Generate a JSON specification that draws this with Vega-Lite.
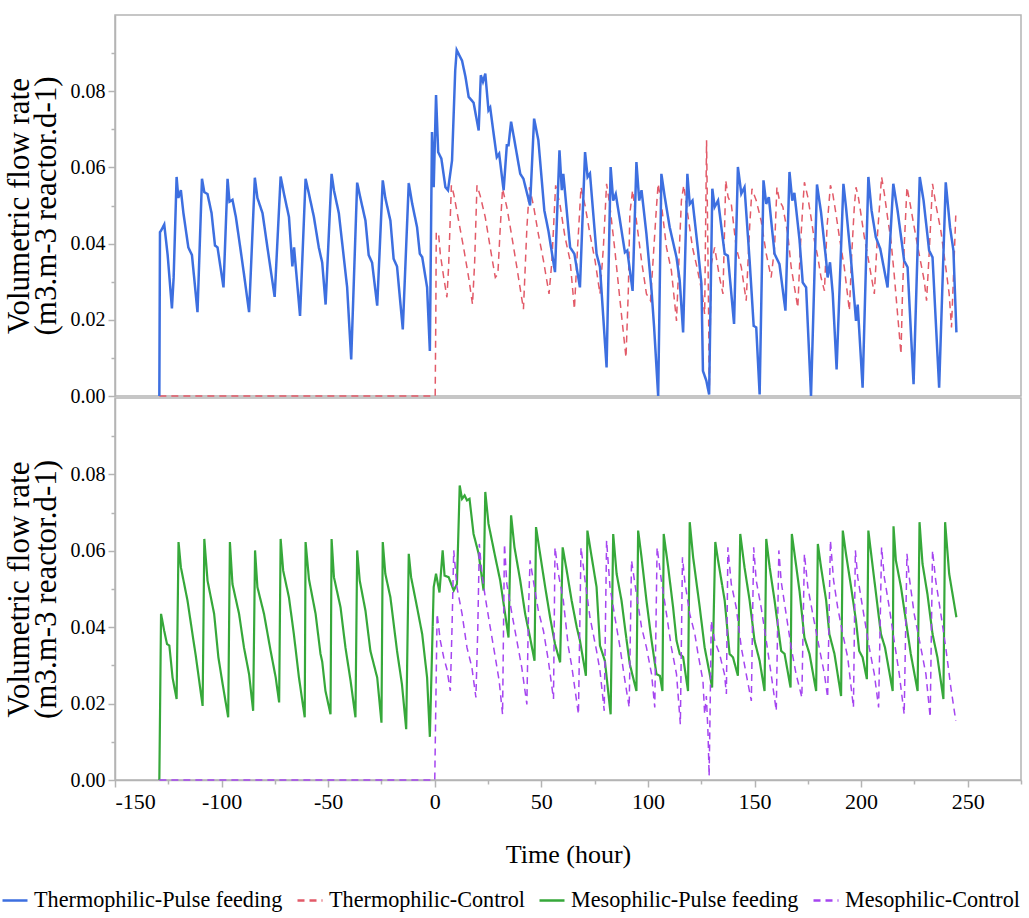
{
"$schema": "https://vega.github.io/schema/vega-lite/v6.json",
"padding": {"left": 1, "top": 14, "right": 8, "bottom": 5},
"background": "white",
"config": {
  "font": "Liberation Serif",
  "style": {"guide-label": {"font": "Liberation Serif"}, "guide-title": {"font": "Liberation Serif"}},
  "view": {"stroke": "#b4b4b4", "strokeWidth": 1.5},
  "axis": {"domainColor": "#b4b4b4", "domainWidth": 1.5, "tickColor": "#b4b4b4", "tickWidth": 1.5, "grid": false,
    "labelFont": "Liberation Serif", "labelFontSize": 20, "labelColor": "black",
    "titleFont": "Liberation Serif", "titleFontWeight": "normal", "titleColor": "black"},
  "legend": {"labelFont": "Liberation Serif", "titleFont": "Liberation Serif", "labelFontSize": 22.2, "labelColor": "black", "symbolType": "stroke",
    "symbolSize": 625, "symbolStrokeWidth": 2.5, "columnPadding": 9, "labelLimit": 500, "labelOffset": 5}
},
"datasets": {
"tp": [{"h":-129.2,"v":0},{"h":-128.9,"v":0.043},{"h":-128.4,"v":0.0434},{"h":-126.9,"v":0.045},{"h":-125.3,"v":0.037},{"h":-123.3,"v":0.023},{"h":-122.5,"v":0.031},{"h":-121.1,"v":0.0575},{"h":-120.3,"v":0.052},{"h":-119.1,"v":0.054},{"h":-117.9,"v":0.048},{"h":-115.6,"v":0.039},{"h":-113.9,"v":0.037},{"h":-111.3,"v":0.022},{"h":-109.2,"v":0.057},{"h":-108.1,"v":0.0535},{"h":-106.6,"v":0.053},{"h":-104.7,"v":0.048},{"h":-103.1,"v":0.0395},{"h":-101.9,"v":0.039},{"h":-99.1,"v":0.0285},{"h":-97.2,"v":0.057},{"h":-96.3,"v":0.051},{"h":-94.9,"v":0.0515},{"h":-93.3,"v":0.047},{"h":-91.0,"v":0.038},{"h":-89.4,"v":0.0316},{"h":-87.1,"v":0.022},{"h":-84.4,"v":0.0573},{"h":-83.2,"v":0.052},{"h":-80.8,"v":0.048},{"h":-78.5,"v":0.039},{"h":-75.1,"v":0.026},{"h":-72.3,"v":0.0576},{"h":-70.7,"v":0.053},{"h":-68.4,"v":0.047},{"h":-66.8,"v":0.034},{"h":-66.0,"v":0.039},{"h":-65.3,"v":0.0345},{"h":-63.2,"v":0.021},{"h":-60.6,"v":0.057},{"h":-59.0,"v":0.053},{"h":-56.7,"v":0.047},{"h":-54.4,"v":0.039},{"h":-52.8,"v":0.035},{"h":-51.2,"v":0.024},{"h":-48.4,"v":0.0583},{"h":-47.3,"v":0.054},{"h":-45.0,"v":0.048},{"h":-42.6,"v":0.036},{"h":-41.1,"v":0.0285},{"h":-39.2,"v":0.0096},{"h":-36.4,"v":0.056},{"h":-34.9,"v":0.052},{"h":-32.5,"v":0.046},{"h":-31.0,"v":0.037},{"h":-29.4,"v":0.035},{"h":-27.0,"v":0.0237},{"h":-24.4,"v":0.0566},{"h":-23.2,"v":0.052},{"h":-20.8,"v":0.046},{"h":-19.3,"v":0.036},{"h":-17.7,"v":0.034},{"h":-15.0,"v":0.0175},{"h":-12.2,"v":0.0559},{"h":-10.6,"v":0.0505},{"h":-8.3,"v":0.0443},{"h":-7.0,"v":0.0373},{"h":-5.9,"v":0.0365},{"h":-3.6,"v":0.0285},{"h":-2.3,"v":0.0118},{"h":-1.3,"v":0.0693},{"h":-0.5,"v":0.0548},{"h":0.6,"v":0.079},{"h":1.6,"v":0.064},{"h":3.1,"v":0.0623},{"h":5.0,"v":0.0548},{"h":6.2,"v":0.054},{"h":8.1,"v":0.0618},{"h":9.6,"v":0.0855},{"h":10.3,"v":0.0908},{"h":12.8,"v":0.088},{"h":14.4,"v":0.0838},{"h":15.9,"v":0.0785},{"h":18.2,"v":0.077},{"h":20.6,"v":0.0697},{"h":21.6,"v":0.0842},{"h":22.6,"v":0.0825},{"h":23.7,"v":0.0846},{"h":25.2,"v":0.075},{"h":26.0,"v":0.0757},{"h":27.6,"v":0.0689},{"h":29.1,"v":0.0627},{"h":30.2,"v":0.0636},{"h":32.3,"v":0.054},{"h":33.8,"v":0.0658},{"h":34.6,"v":0.0658},{"h":35.8,"v":0.072},{"h":37.4,"v":0.067},{"h":40.1,"v":0.0583},{"h":41.6,"v":0.057},{"h":44.7,"v":0.05},{"h":46.6,"v":0.0728},{"h":48.6,"v":0.0671},{"h":51.4,"v":0.0487},{"h":53.3,"v":0.0434},{"h":56.4,"v":0.0325},{"h":58.5,"v":0.0645},{"h":59.6,"v":0.054},{"h":60.3,"v":0.0583},{"h":61.9,"v":0.0487},{"h":63.5,"v":0.039},{"h":65.5,"v":0.0373},{"h":68.1,"v":0.0285},{"h":70.5,"v":0.064},{"h":71.7,"v":0.0575},{"h":72.8,"v":0.0584},{"h":75.9,"v":0.0373},{"h":77.5,"v":0.0338},{"h":80.6,"v":0.0075},{"h":82.5,"v":0.0601},{"h":83.7,"v":0.0513},{"h":84.9,"v":0.053},{"h":86.9,"v":0.046},{"h":89.2,"v":0.0377},{"h":90.3,"v":0.0382},{"h":92.8,"v":0.0276},{"h":94.6,"v":0.0614},{"h":95.9,"v":0.0513},{"h":97.0,"v":0.054},{"h":99.3,"v":0.0425},{"h":101.7,"v":0.0276},{"h":102.9,"v":0.018},{"h":104.8,"v":0},{"h":106.3,"v":0.0583},{"h":107.9,"v":0.0522},{"h":110.2,"v":0.0443},{"h":113.4,"v":0.0364},{"h":114.9,"v":0.0303},{"h":116.5,"v":0.0167},{"h":118.5,"v":0.0583},{"h":119.6,"v":0.0504},{"h":120.9,"v":0.0513},{"h":123.5,"v":0.0382},{"h":125.1,"v":0.0294},{"h":125.8,"v":0.0066},{"h":127.4,"v":0.004},{"h":128.7,"v":0.0004},{"h":130.2,"v":0.0544},{"h":131.3,"v":0.0496},{"h":132.9,"v":0.0513},{"h":136.0,"v":0.0373},{"h":137.5,"v":0.0368},{"h":140.4,"v":0.0189},{"h":142.2,"v":0.0601},{"h":143.8,"v":0.0531},{"h":145.3,"v":0.0548},{"h":147.7,"v":0.0355},{"h":149.6,"v":0.0184},{"h":150.8,"v":0.018},{"h":152.4,"v":0.0004},{"h":154.2,"v":0.0566},{"h":155.5,"v":0.0504},{"h":156.7,"v":0.0522},{"h":159.4,"v":0.0373},{"h":161.7,"v":0.0346},{"h":164.5,"v":0.0224},{"h":166.4,"v":0.0588},{"h":167.7,"v":0.0513},{"h":168.7,"v":0.0533},{"h":171.1,"v":0.041},{"h":172.6,"v":0.0298},{"h":174.2,"v":0.0285},{"h":176.5,"v":0},{"h":179.3,"v":0.0555},{"h":181.2,"v":0.0482},{"h":183.6,"v":0.0355},{"h":184.3,"v":0.0311},{"h":185.4,"v":0.0351},{"h":186.7,"v":0.0268},{"h":188.5,"v":0.007},{"h":191.7,"v":0.0557},{"h":192.9,"v":0.0496},{"h":195.3,"v":0.0355},{"h":197.6,"v":0.0197},{"h":198.4,"v":0.024},{"h":200.7,"v":0.0022},{"h":203.4,"v":0.0575},{"h":204.9,"v":0.0487},{"h":206.9,"v":0.0417},{"h":209.0,"v":0.0386},{"h":212.4,"v":0.0285},{"h":215.1,"v":0.0557},{"h":217.1,"v":0.0487},{"h":220.2,"v":0.0355},{"h":221.8,"v":0.0338},{"h":224.6,"v":0.0031},{"h":227.5,"v":0.0575},{"h":229.3,"v":0.0513},{"h":231.9,"v":0.0382},{"h":233.5,"v":0.0364},{"h":236.6,"v":0.0022},{"h":239.7,"v":0.0561},{"h":241.7,"v":0.0443},{"h":243.3,"v":0.0382},{"h":244.7,"v":0.0167}],
"tc": [{"h":-129.2,"v":0},{"h":0.2,"v":0},{"h":0.5,"v":0.0215},{"h":0.7,"v":0.043},{"h":1.8,"v":0.0425},{"h":2.6,"v":0.0373},{"h":4.2,"v":0.0311},{"h":5.7,"v":0.0259},{"h":6.5,"v":0.034},{"h":7.8,"v":0.0553},{"h":8.9,"v":0.053},{"h":11.2,"v":0.046},{"h":13.5,"v":0.039},{"h":15.9,"v":0.0311},{"h":17.7,"v":0.0241},{"h":18.7,"v":0.035},{"h":19.8,"v":0.0553},{"h":21.3,"v":0.0526},{"h":23.7,"v":0.0469},{"h":26.0,"v":0.039},{"h":28.4,"v":0.0311},{"h":29.6,"v":0.032},{"h":30.7,"v":0.044},{"h":31.8,"v":0.0544},{"h":33.8,"v":0.0496},{"h":36.2,"v":0.0417},{"h":38.5,"v":0.0338},{"h":41.6,"v":0.0228},{"h":43.2,"v":0.044},{"h":44.4,"v":0.0548},{"h":46.3,"v":0.05},{"h":48.6,"v":0.0425},{"h":51.0,"v":0.0355},{"h":53.6,"v":0.0268},{"h":54.9,"v":0.035},{"h":56.7,"v":0.0553},{"h":58.8,"v":0.05},{"h":61.1,"v":0.0417},{"h":63.5,"v":0.0355},{"h":65.5,"v":0.0228},{"h":66.6,"v":0.035},{"h":68.6,"v":0.0548},{"h":70.5,"v":0.05},{"h":72.8,"v":0.0425},{"h":75.2,"v":0.0355},{"h":77.5,"v":0.0268},{"h":79.1,"v":0.039},{"h":80.6,"v":0.0557},{"h":82.2,"v":0.0496},{"h":84.5,"v":0.0382},{"h":86.9,"v":0.025},{"h":89.7,"v":0.0101},{"h":90.8,"v":0.0276},{"h":91.5,"v":0.0478},{"h":92.8,"v":0.054},{"h":94.6,"v":0.046},{"h":97.0,"v":0.0355},{"h":99.3,"v":0.0268},{"h":101.2,"v":0.025},{"h":102.4,"v":0.0355},{"h":104.0,"v":0.0496},{"h":104.8,"v":0.0557},{"h":106.3,"v":0.0504},{"h":108.7,"v":0.039},{"h":111.0,"v":0.0329},{"h":113.4,"v":0.0197},{"h":114.9,"v":0.0408},{"h":115.7,"v":0.0513},{"h":116.8,"v":0.0553},{"h":118.4,"v":0.0487},{"h":120.9,"v":0.039},{"h":123.0,"v":0.0338},{"h":125.5,"v":0.0268},{"h":126.6,"v":0.0215},{"h":127.5,"v":0.0671},{"h":128.3,"v":0.03},{"h":128.8,"v":0.002},{"h":129.7,"v":0.0346},{"h":131.3,"v":0.039},{"h":133.6,"v":0.0311},{"h":135.2,"v":0.0268},{"h":136.5,"v":0.0566},{"h":137.6,"v":0.0522},{"h":139.1,"v":0.0504},{"h":141.4,"v":0.039},{"h":143.8,"v":0.0338},{"h":146.1,"v":0.025},{"h":147.7,"v":0.0443},{"h":148.8,"v":0.0544},{"h":150.8,"v":0.0513},{"h":153.1,"v":0.046},{"h":155.5,"v":0.0373},{"h":157.8,"v":0.0311},{"h":159.4,"v":0.039},{"h":160.5,"v":0.0548},{"h":161.7,"v":0.0513},{"h":163.3,"v":0.0496},{"h":165.6,"v":0.0425},{"h":167.2,"v":0.0338},{"h":170.3,"v":0.0232},{"h":171.5,"v":0.039},{"h":172.6,"v":0.0496},{"h":173.4,"v":0.0561},{"h":175.0,"v":0.0522},{"h":176.5,"v":0.0469},{"h":178.1,"v":0.0408},{"h":179.7,"v":0.0364},{"h":181.2,"v":0.0311},{"h":182.8,"v":0.0276},{"h":184.0,"v":0.0443},{"h":185.6,"v":0.0553},{"h":186.7,"v":0.0531},{"h":188.2,"v":0.0478},{"h":189.8,"v":0.0417},{"h":192.1,"v":0.0338},{"h":194.5,"v":0.0224},{"h":195.6,"v":0.0373},{"h":196.8,"v":0.0496},{"h":197.6,"v":0.0548},{"h":198.7,"v":0.0522},{"h":199.9,"v":0.0478},{"h":201.5,"v":0.0417},{"h":203.8,"v":0.0346},{"h":206.2,"v":0.0268},{"h":207.7,"v":0.0425},{"h":209.6,"v":0.0575},{"h":210.9,"v":0.0531},{"h":212.4,"v":0.0469},{"h":214.0,"v":0.0408},{"h":215.5,"v":0.032},{"h":218.7,"v":0.011},{"h":219.4,"v":0.0268},{"h":220.2,"v":0.039},{"h":221.5,"v":0.0548},{"h":223.0,"v":0.0504},{"h":224.9,"v":0.0443},{"h":227.2,"v":0.0373},{"h":229.6,"v":0.0303},{"h":230.7,"v":0.025},{"h":232.0,"v":0.0382},{"h":233.5,"v":0.0557},{"h":235.0,"v":0.0504},{"h":237.4,"v":0.0434},{"h":239.7,"v":0.0338},{"h":241.3,"v":0.0268},{"h":242.4,"v":0.018},{"h":243.3,"v":0.031},{"h":244.4,"v":0.0474}],
"mp": [{"h":-129.2,"v":0},{"h":-128.4,"v":0.0435},{"h":-126.9,"v":0.039},{"h":-125.6,"v":0.0356},{"h":-124.5,"v":0.0352},{"h":-123.0,"v":0.0268},{"h":-121.1,"v":0.0212},{"h":-120.2,"v":0.0623},{"h":-119.1,"v":0.0557},{"h":-116.0,"v":0.047},{"h":-113.2,"v":0.0365},{"h":-112.1,"v":0.0325},{"h":-108.9,"v":0.0194},{"h":-108.1,"v":0.0631},{"h":-106.6,"v":0.0522},{"h":-103.5,"v":0.0435},{"h":-101.5,"v":0.0321},{"h":-99.5,"v":0.0251},{"h":-96.9,"v":0.0164},{"h":-96.1,"v":0.0623},{"h":-94.9,"v":0.0513},{"h":-91.8,"v":0.0435},{"h":-89.5,"v":0.0347},{"h":-87.1,"v":0.0277},{"h":-85.2,"v":0.0181},{"h":-84.3,"v":0.0601},{"h":-83.2,"v":0.0505},{"h":-80.1,"v":0.0435},{"h":-77.0,"v":0.0338},{"h":-74.6,"v":0.0268},{"h":-73.0,"v":0.0203},{"h":-72.3,"v":0.0631},{"h":-71.1,"v":0.0548},{"h":-68.4,"v":0.0478},{"h":-66.1,"v":0.0382},{"h":-63.7,"v":0.0268},{"h":-61.0,"v":0.0164},{"h":-60.6,"v":0.0623},{"h":-59.0,"v":0.0525},{"h":-55.9,"v":0.0435},{"h":-53.6,"v":0.033},{"h":-52.8,"v":0.031},{"h":-51.3,"v":0.0234},{"h":-48.9,"v":0.0172},{"h":-48.4,"v":0.0631},{"h":-47.3,"v":0.0531},{"h":-44.2,"v":0.0452},{"h":-41.9,"v":0.0347},{"h":-39.5,"v":0.026},{"h":-37.2,"v":0.0164},{"h":-36.4,"v":0.0601},{"h":-35.2,"v":0.0522},{"h":-32.5,"v":0.0443},{"h":-30.2,"v":0.0338},{"h":-27.0,"v":0.0268},{"h":-25.0,"v":0.015},{"h":-24.4,"v":0.0623},{"h":-23.2,"v":0.054},{"h":-20.8,"v":0.0478},{"h":-17.7,"v":0.0338},{"h":-15.4,"v":0.0251},{"h":-13.4,"v":0.0133},{"h":-12.2,"v":0.0592},{"h":-11.1,"v":0.0531},{"h":-8.3,"v":0.0452},{"h":-5.9,"v":0.0382},{"h":-3.6,"v":0.0268},{"h":-2.3,"v":0.0113},{"h":-0.5,"v":0.0505},{"h":0.6,"v":0.054},{"h":2.2,"v":0.0491},{"h":3.7,"v":0.0601},{"h":4.6,"v":0.0535},{"h":6.5,"v":0.0531},{"h":8.9,"v":0.0496},{"h":10.4,"v":0.0513},{"h":11.7,"v":0.0771},{"h":12.8,"v":0.0736},{"h":14.0,"v":0.0745},{"h":15.1,"v":0.0732},{"h":16.3,"v":0.0736},{"h":18.2,"v":0.0644},{"h":20.6,"v":0.0592},{"h":22.9,"v":0.0496},{"h":23.7,"v":0.0754},{"h":25.2,"v":0.0671},{"h":28.4,"v":0.0583},{"h":30.7,"v":0.0522},{"h":33.0,"v":0.0435},{"h":34.6,"v":0.0373},{"h":35.8,"v":0.0693},{"h":37.4,"v":0.0609},{"h":40.1,"v":0.0522},{"h":42.4,"v":0.0435},{"h":44.7,"v":0.0373},{"h":46.8,"v":0.0312},{"h":47.5,"v":0.0662},{"h":49.4,"v":0.0592},{"h":51.8,"v":0.0505},{"h":54.1,"v":0.0426},{"h":56.4,"v":0.0356},{"h":58.8,"v":0.0308},{"h":60.0,"v":0.0609},{"h":61.9,"v":0.0548},{"h":64.2,"v":0.047},{"h":66.6,"v":0.04},{"h":68.1,"v":0.0365},{"h":70.9,"v":0.0273},{"h":71.6,"v":0.0653},{"h":73.1,"v":0.0601},{"h":75.9,"v":0.0505},{"h":77.5,"v":0.0352},{"h":79.8,"v":0.0312},{"h":82.5,"v":0.0172},{"h":83.7,"v":0.0644},{"h":85.3,"v":0.054},{"h":87.6,"v":0.047},{"h":90.0,"v":0.0365},{"h":91.5,"v":0.0303},{"h":94.6,"v":0.0233},{"h":95.4,"v":0.0653},{"h":97.0,"v":0.0583},{"h":99.3,"v":0.047},{"h":101.7,"v":0.0365},{"h":104.0,"v":0.0277},{"h":105.6,"v":0.0273},{"h":106.8,"v":0.0233},{"h":107.4,"v":0.0644},{"h":109.5,"v":0.0557},{"h":111.8,"v":0.0452},{"h":113.4,"v":0.0365},{"h":114.9,"v":0.033},{"h":116.5,"v":0.0322},{"h":118.8,"v":0.0233},{"h":119.6,"v":0.0675},{"h":121.2,"v":0.0583},{"h":124.3,"v":0.0452},{"h":126.6,"v":0.0347},{"h":129.0,"v":0.0277},{"h":130.1,"v":0.0242},{"h":131.6,"v":0.0623},{"h":132.9,"v":0.0575},{"h":136.0,"v":0.047},{"h":138.3,"v":0.033},{"h":139.9,"v":0.0321},{"h":142.2,"v":0.0273},{"h":143.3,"v":0.0644},{"h":145.3,"v":0.0557},{"h":147.7,"v":0.047},{"h":150.0,"v":0.0365},{"h":152.4,"v":0.0312},{"h":154.7,"v":0.0233},{"h":155.5,"v":0.0631},{"h":157.1,"v":0.0557},{"h":159.4,"v":0.047},{"h":162.5,"v":0.0338},{"h":164.1,"v":0.033},{"h":166.9,"v":0.0242},{"h":167.5,"v":0.0644},{"h":168.7,"v":0.0595},{"h":171.1,"v":0.0495},{"h":173.4,"v":0.0373},{"h":175.8,"v":0.033},{"h":178.9,"v":0.0233},{"h":179.7,"v":0.0618},{"h":181.2,"v":0.0557},{"h":183.6,"v":0.047},{"h":185.1,"v":0.0382},{"h":187.5,"v":0.033},{"h":190.6,"v":0.022},{"h":191.4,"v":0.0653},{"h":192.9,"v":0.0592},{"h":195.3,"v":0.0505},{"h":197.6,"v":0.0417},{"h":199.1,"v":0.0338},{"h":200.7,"v":0.0321},{"h":202.7,"v":0.0264},{"h":203.4,"v":0.0653},{"h":204.9,"v":0.0583},{"h":207.0,"v":0.0487},{"h":209.3,"v":0.0382},{"h":211.2,"v":0.0347},{"h":214.8,"v":0.0233},{"h":215.2,"v":0.0664},{"h":216.3,"v":0.0575},{"h":218.7,"v":0.0505},{"h":221.0,"v":0.0417},{"h":223.3,"v":0.033},{"h":226.5,"v":0.0233},{"h":227.4,"v":0.0675},{"h":228.8,"v":0.0566},{"h":231.1,"v":0.0487},{"h":233.5,"v":0.0382},{"h":235.8,"v":0.0321},{"h":238.6,"v":0.0212},{"h":239.4,"v":0.0675},{"h":241.3,"v":0.054},{"h":244.7,"v":0.0426}],
"mc": [{"h":-129.2,"v":0},{"h":0.0,"v":0},{"h":0.5,"v":0.02},{"h":1.1,"v":0.0435},{"h":2.6,"v":0.0365},{"h":4.2,"v":0.0321},{"h":5.7,"v":0.029},{"h":7.3,"v":0.0233},{"h":8.1,"v":0.04},{"h":8.9,"v":0.0601},{"h":10.4,"v":0.0505},{"h":12.8,"v":0.0435},{"h":15.1,"v":0.0347},{"h":17.4,"v":0.0295},{"h":19.3,"v":0.0216},{"h":20.2,"v":0.04},{"h":20.9,"v":0.0618},{"h":22.1,"v":0.054},{"h":23.7,"v":0.0478},{"h":26.0,"v":0.04},{"h":28.4,"v":0.0321},{"h":30.2,"v":0.026},{"h":31.8,"v":0.0172},{"h":32.7,"v":0.0618},{"h":33.8,"v":0.0513},{"h":36.2,"v":0.0435},{"h":38.5,"v":0.0365},{"h":40.8,"v":0.0295},{"h":43.2,"v":0.0198},{"h":44.0,"v":0.045},{"h":44.7,"v":0.0575},{"h":46.3,"v":0.052},{"h":48.6,"v":0.0443},{"h":51.0,"v":0.039},{"h":53.3,"v":0.0312},{"h":55.7,"v":0.0212},{"h":56.4,"v":0.0609},{"h":58.0,"v":0.054},{"h":60.3,"v":0.047},{"h":62.7,"v":0.0347},{"h":64.2,"v":0.03},{"h":67.4,"v":0.0172},{"h":68.6,"v":0.0609},{"h":70.5,"v":0.0522},{"h":72.8,"v":0.0426},{"h":75.9,"v":0.0338},{"h":77.5,"v":0.0286},{"h":79.5,"v":0.0181},{"h":80.6,"v":0.0627},{"h":82.2,"v":0.0505},{"h":84.5,"v":0.0426},{"h":86.9,"v":0.0347},{"h":89.2,"v":0.026},{"h":91.2,"v":0.019},{"h":92.3,"v":0.0575},{"h":93.9,"v":0.0513},{"h":97.0,"v":0.04},{"h":99.3,"v":0.0347},{"h":101.7,"v":0.0277},{"h":103.2,"v":0.019},{"h":104.3,"v":0.0609},{"h":106.3,"v":0.0522},{"h":108.7,"v":0.0435},{"h":111.0,"v":0.0347},{"h":113.4,"v":0.0277},{"h":115.2,"v":0.0146},{"h":116.2,"v":0.0583},{"h":117.3,"v":0.052},{"h":119.6,"v":0.0435},{"h":122.0,"v":0.0382},{"h":123.5,"v":0.033},{"h":125.8,"v":0.026},{"h":126.6,"v":0.0172},{"h":127.4,"v":0.022},{"h":128.2,"v":0.012},{"h":128.7,"v":0.001},{"h":129.2,"v":0.02},{"h":129.7,"v":0.0417},{"h":131.3,"v":0.0365},{"h":133.6,"v":0.033},{"h":135.9,"v":0.0277},{"h":136.8,"v":0.0225},{"h":137.5,"v":0.0609},{"h":139.1,"v":0.0513},{"h":141.4,"v":0.0452},{"h":143.8,"v":0.0347},{"h":146.1,"v":0.0277},{"h":148.5,"v":0.0207},{"h":149.6,"v":0.0609},{"h":150.8,"v":0.0522},{"h":153.1,"v":0.0452},{"h":155.5,"v":0.0365},{"h":157.8,"v":0.0277},{"h":160.2,"v":0.0181},{"h":161.4,"v":0.0601},{"h":162.5,"v":0.052},{"h":164.8,"v":0.0435},{"h":167.2,"v":0.0347},{"h":169.5,"v":0.0277},{"h":172.2,"v":0.0216},{"h":173.4,"v":0.0592},{"h":175.0,"v":0.0505},{"h":177.3,"v":0.0435},{"h":179.7,"v":0.0365},{"h":182.8,"v":0.0277},{"h":184.3,"v":0.0216},{"h":185.6,"v":0.0627},{"h":187.1,"v":0.0522},{"h":189.0,"v":0.0452},{"h":191.4,"v":0.0382},{"h":193.7,"v":0.0321},{"h":196.4,"v":0.019},{"h":197.3,"v":0.0601},{"h":198.4,"v":0.0531},{"h":200.7,"v":0.0452},{"h":203.8,"v":0.0347},{"h":206.2,"v":0.0277},{"h":208.2,"v":0.019},{"h":209.6,"v":0.0609},{"h":210.9,"v":0.053},{"h":213.2,"v":0.0452},{"h":215.5,"v":0.0365},{"h":217.9,"v":0.0277},{"h":220.2,"v":0.0172},{"h":221.5,"v":0.0592},{"h":222.6,"v":0.053},{"h":224.9,"v":0.0435},{"h":228.0,"v":0.0347},{"h":230.4,"v":0.0277},{"h":232.4,"v":0.0164},{"h":233.5,"v":0.0601},{"h":235.0,"v":0.0522},{"h":237.4,"v":0.0435},{"h":239.7,"v":0.0347},{"h":242.1,"v":0.0242},{"h":244.4,"v":0.0155}]
},
"spacing": 2,
"bounds": "flush",
"vconcat": [
  {
    "width": 906, "height": 381,
    "encoding": {
      "x": {"field": "h", "type": "quantitative", "scale": {"domain": [-150, 275], "nice": false, "zero": false}, "axis": null},
      "y": {"field": "v", "type": "quantitative", "scale": {"domain": [0, 0.1], "nice": false},
        "axis": {"title": ["Volumetric flow rate", "(m3.m-3 reactor.d-1)"], "titleFont": "Liberation Serif", "titleFontSize": 31, "titleLineHeight": 27, "titlePadding": 8,
          "labelFont": "Liberation Serif",
          "values": [0, 0.01, 0.02, 0.03, 0.04, 0.05, 0.06, 0.07, 0.08, 0.09],
          "labelExpr": "round(datum.value*100) % 2 == 0 ? format(datum.value, '.2f') : ''",
          "tickSize": {"condition": {"test": "round(datum.value*100) % 2 == 0", "value": 7}, "value": 4},
          "labelPadding": 3}}
    },
    "layer": [
      {"data": {"name": "tc"}, "mark": {"type": "line", "strokeWidth": 1.5},
       "encoding": {
         "color": {"datum": "Thermophilic-Control", "scale": {"domain": ["Thermophilic-Pulse feeding", "Thermophilic-Control", "Mesophilic-Pulse feeding", "Mesophilic-Control"], "range": ["#3d6fe0", "#e25a68", "#36a83a", "#a545f0"]},
           "legend": {"title": null, "orient": "none", "direction": "horizontal", "legendX": -114, "legendY": 871, "labelFont": "Liberation Serif"}},
         "strokeDash": {"datum": "Thermophilic-Control", "scale": {"domain": ["Thermophilic-Pulse feeding", "Thermophilic-Control", "Mesophilic-Pulse feeding", "Mesophilic-Control"], "range": [[1, 0], [7, 5], [1, 0], [7, 5]]},
           "legend": {"title": null, "orient": "none", "direction": "horizontal", "legendX": -114, "legendY": 871, "labelFont": "Liberation Serif"}}
       }},
      {"data": {"name": "tp"}, "mark": {"type": "line", "strokeWidth": 2.5},
       "encoding": {
         "color": {"datum": "Thermophilic-Pulse feeding"},
         "strokeDash": {"datum": "Thermophilic-Pulse feeding"}
       }}
    ]
  },
  {
    "width": 906, "height": 382,
    "encoding": {
      "x": {"field": "h", "type": "quantitative", "scale": {"domain": [-150, 275], "nice": false, "zero": false},
        "axis": {"title": "Time (hour)", "titleFont": "Liberation Serif", "titleFontSize": 26, "titlePadding": 29, "labelFontSize": 22, "labelFont": "Liberation Serif",
          "values": [-150, -125, -100, -75, -50, -25, 0, 25, 50, 75, 100, 125, 150, 175, 200, 225, 250, 275],
          "labelExpr": "datum.value % 50 == 0 ? (datum.value < 0 ? '-' + abs(datum.value) : '' + datum.value) : ''",
          "tickSize": {"condition": {"test": "datum.value % 50 == 0", "value": 7}, "value": 4},
          "labelPadding": 4}},
      "y": {"field": "v", "type": "quantitative", "scale": {"domain": [0, 0.1], "nice": false},
        "axis": {"title": ["Volumetric flow rate", "(m3.m-3 reactor.d-1)"], "titleFont": "Liberation Serif", "titleFontSize": 31, "titleLineHeight": 27, "titlePadding": 8,
          "labelFont": "Liberation Serif",
          "values": [0, 0.01, 0.02, 0.03, 0.04, 0.05, 0.06, 0.07, 0.08, 0.09],
          "labelExpr": "round(datum.value*100) % 2 == 0 ? format(datum.value, '.2f') : ''",
          "tickSize": {"condition": {"test": "round(datum.value*100) % 2 == 0", "value": 7}, "value": 4},
          "labelPadding": 3}}
    },
    "layer": [
      {"data": {"name": "mp"}, "mark": {"type": "line", "strokeWidth": 2.2},
       "encoding": {
         "color": {"datum": "Mesophilic-Pulse feeding"},
         "strokeDash": {"datum": "Mesophilic-Pulse feeding"}
       }},
      {"data": {"name": "mc"}, "mark": {"type": "line", "strokeWidth": 1.5},
       "encoding": {
         "color": {"datum": "Mesophilic-Control"},
         "strokeDash": {"datum": "Mesophilic-Control"}
       }}
    ]
  }
],
"resolve": {"scale": {"color": "shared", "strokeDash": "shared"}}
}
